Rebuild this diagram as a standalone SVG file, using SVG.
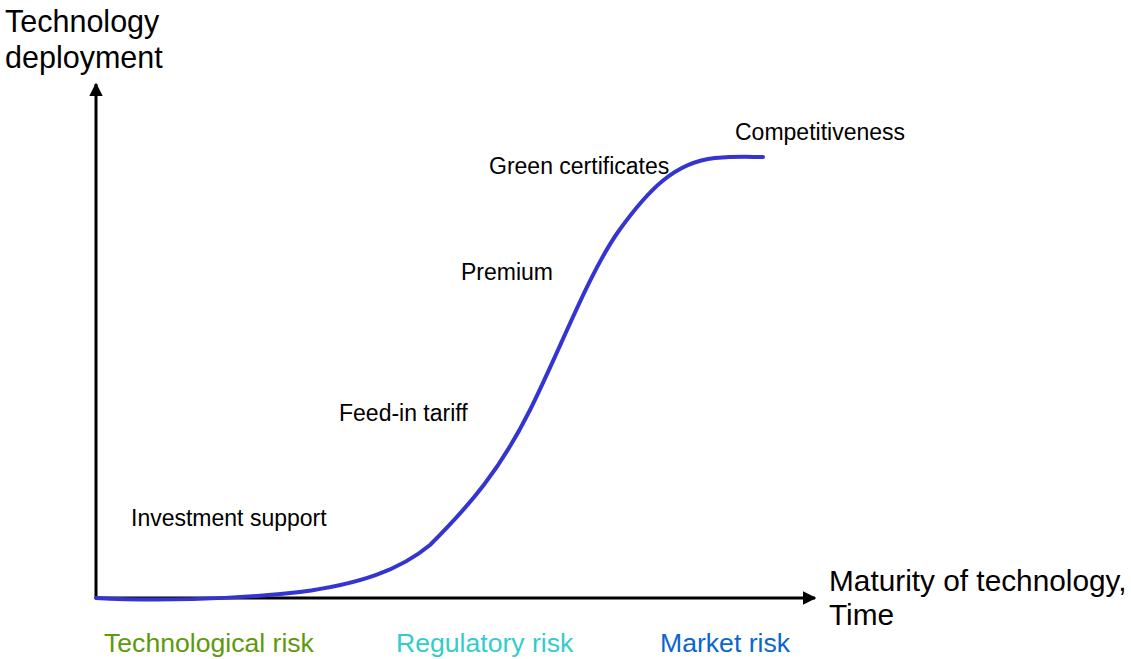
<svg xmlns="http://www.w3.org/2000/svg" width="1131" height="659" viewBox="0 0 1131 659">
<style>
text{font-family:"Liberation Sans",Arial,sans-serif;}
.ax{font-size:30.5px;fill:#000}
.ax2{font-size:29.8px;fill:#000}
.lb{font-size:23px;fill:#000}
.rk{font-size:26.6px}
.axis{stroke:#000;stroke-width:3;fill:none}
</style>
<defs>
<marker id="ah" viewBox="0 0 10 10" refX="9" refY="5" markerWidth="4.5" markerHeight="4.5" orient="auto" markerUnits="strokeWidth">
<path d="M0,0 L10,5 L0,10 z" fill="#000"/>
</marker>
</defs>
<g id="axes">
<line class="axis" x1="96" y1="599" x2="96" y2="84" marker-end="url(#ah)"/>
<line class="axis" x1="95" y1="598" x2="815" y2="598" marker-end="url(#ah)"/>
</g>
<g id="curve">
<path d="M96,598 C150,601 230,600 300,592 C360,584 400,570 430,545 C470,505 500,470 530,410 C560,350 588,275 618,232 C648,190 675,162 715,158 C738,156 750,157 763,157" fill="none" stroke="#3434d0" stroke-width="4" stroke-linecap="round"/>
</g>
<g id="axis-labels">
<text class="ax" x="5" y="32">Technology</text>
<text class="ax" x="5" y="68">deployment</text>
<text class="ax2" x="829" y="591">Maturity of technology,</text>
<text class="ax2" x="829" y="625">Time</text>
</g>
<g id="stages">
<text class="lb" x="735" y="140">Competitiveness</text>
<text class="lb" x="489" y="174">Green certificates</text>
<text class="lb" x="461" y="280">Premium</text>
<text class="lb" x="339" y="421">Feed-in tariff</text>
<text class="lb" x="131" y="526">Investment support</text>
</g>
<g id="risks">
<text class="rk" x="104" y="652" fill="#5c9a0c">Technological risk</text>
<text class="rk" x="396" y="652" fill="#33cccc">Regulatory risk</text>
<text class="rk" x="660" y="652" fill="#0b66cc">Market risk</text>
</g>
</svg>
